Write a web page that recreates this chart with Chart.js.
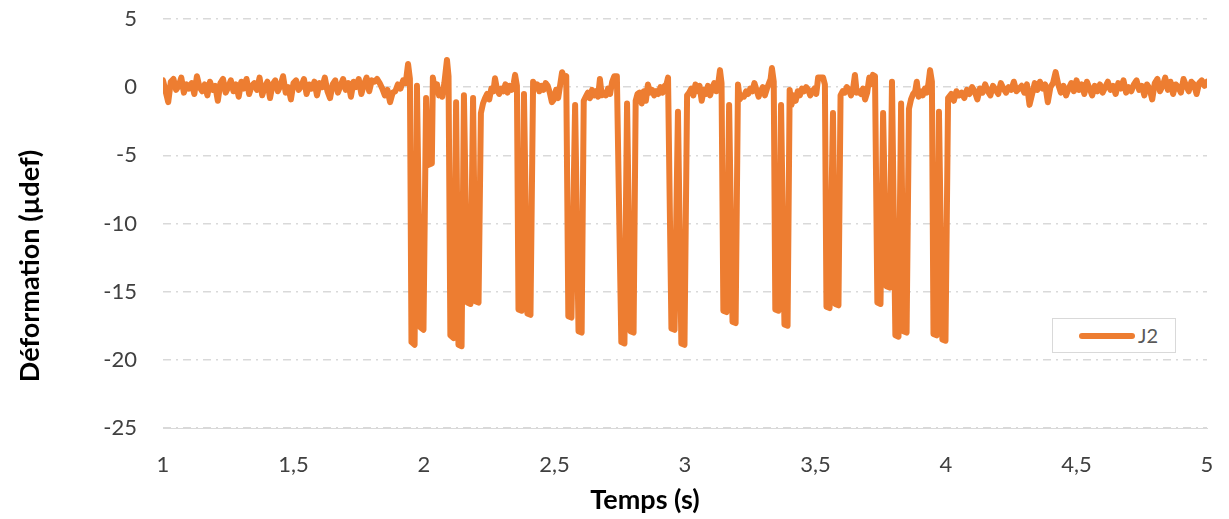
<!DOCTYPE html>
<html>
<head>
<meta charset="utf-8">
<script src="https://cdn.jsdelivr.net/npm/chart.js@4"></script>
<style>
    html, body { margin: 0; padding: 0; background: #fff; }
    #wrap { position: relative; width: 1229px; height: 519px; }
    #legend {
        position: absolute; left: 1052px; top: 318px; width: 122px; height: 33px;
        border: 1px solid #d9d9d9; background: #fff;
        font-family: Lato, sans-serif; font-size: 20px; color: #595959;
    }
    #legend .swatch {
        position: absolute; left: 26px; top: 14px; width: 56px; height: 6px;
        background: #ED7D31; border-radius: 3px;
    }
    #legend .label { position: absolute; left: 85px; top: 4px; }
</style>
</head>
<body>
<div id="wrap">
    <canvas id="chart" width="1229" height="519"></canvas>
    <div id="legend"><span class="swatch"></span><span class="label">J2</span></div>
</div>
<script>
// Signal J2

// quiet part before the passage, one sample every 0.01 s from 1.00 s
const beforeStart = 1.00;
const sampleStep = 0.01;
const strainBefore = [
    0.5, -0.3, -1.1, 0.4, 0.6, -0.2, 0.1, 0.7, -0.4, 0.2,
    -0.1, 0.3, -0.5, 0.8, 0.0, -0.3, 0.2, -0.6, 0.4, -0.2,
    0.1, -1.0, 0.3, 0.6, -0.4, 0.0, 0.5, -0.3, 0.2, -0.7,
    0.4, -0.1, 0.6, -0.5, 0.1, 0.3, -0.2, 0.7, -0.6, 0.0,
    0.4, -0.8, 0.2, 0.5, -0.3, 0.1, 0.8, -0.4, 0.0, -0.9,
    0.3, 0.5, -0.2, 0.1, 0.6, -0.5, 0.2, -0.1, 0.4, -0.6,
    0.3, 0.0, 0.7, -0.3, -0.8, 0.2, 0.5, -0.4, 0.1, 0.6,
    -0.2, 0.3, -0.7, 0.4, 0.0, 0.6, -0.5, 0.2, 0.7, -0.3,
    0.5, 0.4, 0.6, 0.3, -0.1, -0.6, -0.2, -1.1, -0.4, -0.3,
    0.2, -0.1, 0.5
];

// passage of the axles (1.93 s - 4.01 s)
const passTimes = [
    1.930, 1.939, 1.946, 1.952, 1.964, 1.973, 1.986, 1.998, 2.008, 2.016,
    2.030, 2.034, 2.042, 2.050, 2.057, 2.064, 2.070, 2.078, 2.088, 2.094,
    2.101, 2.113, 2.123, 2.132, 2.144, 2.153, 2.166, 2.178, 2.188, 2.197,
    2.209, 2.218, 2.226, 2.234, 2.242, 2.250, 2.258, 2.266, 2.272, 2.280,
    2.288, 2.296, 2.304, 2.312, 2.320, 2.328, 2.336, 2.344, 2.349, 2.356,
    2.362, 2.374, 2.383, 2.396, 2.408, 2.418, 2.426, 2.434, 2.442, 2.450,
    2.458, 2.466, 2.474, 2.482, 2.490, 2.498, 2.506, 2.514, 2.522, 2.529,
    2.537, 2.545, 2.553, 2.565, 2.579, 2.592, 2.604, 2.612, 2.620, 2.628,
    2.636, 2.644, 2.652, 2.660, 2.667, 2.674, 2.681, 2.689, 2.697, 2.705,
    2.713, 2.721, 2.729, 2.739, 2.756, 2.768, 2.778, 2.791, 2.803, 2.811,
    2.818, 2.826, 2.834, 2.842, 2.850, 2.858, 2.866, 2.874, 2.882, 2.890,
    2.898, 2.906, 2.914, 2.922, 2.929, 2.935, 2.948, 2.960, 2.973, 2.986,
    2.998, 3.008, 3.016, 3.024, 3.032, 3.040, 3.048, 3.056, 3.064, 3.072,
    3.080, 3.088, 3.096, 3.104, 3.112, 3.120, 3.127, 3.134, 3.140, 3.147,
    3.159, 3.169, 3.182, 3.194, 3.203, 3.210, 3.218, 3.226, 3.234, 3.242,
    3.250, 3.258, 3.266, 3.274, 3.282, 3.290, 3.298, 3.306, 3.314, 3.322,
    3.328, 3.333, 3.340, 3.346, 3.358, 3.368, 3.381, 3.393, 3.401, 3.408,
    3.416, 3.424, 3.432, 3.440, 3.448, 3.456, 3.464, 3.472, 3.480, 3.488,
    3.496, 3.503, 3.510, 3.520, 3.529, 3.536, 3.542, 3.554, 3.567, 3.576,
    3.588, 3.596, 3.604, 3.612, 3.620, 3.628, 3.636, 3.644, 3.651, 3.658,
    3.666, 3.674, 3.682, 3.690, 3.698, 3.706, 3.712, 3.720, 3.728, 3.737,
    3.749, 3.759, 3.772, 3.784, 3.793, 3.806, 3.818, 3.828, 3.837, 3.849,
    3.858, 3.866, 3.874, 3.882, 3.888, 3.895, 3.903, 3.911, 3.919, 3.927,
    3.933, 3.939, 3.946, 3.952, 3.964, 3.973, 3.986, 3.998, 4.008
];
const passStrain = [
    0.3, 1.7, 0.6, -18.7, -18.9, 0.1, -17.6, -17.8, -0.8, -5.7,
    -5.6, 0.7, -0.3, 0.2, -0.6, -0.2, -0.7, 0.3, 2.0, 0.8,
    -18.2, -18.4, -1.1, -18.9, -19.0, -0.6, -15.8, -15.9, -0.8, -15.7,
    -15.8, -1.9, -1.2, -0.8, -0.5, -0.9, -0.1, -0.3, 0.65, -0.2,
    -0.5, -0.1, -0.3, 0.2, -0.4, 0.1, -0.2, 0.3, 0.9, 0.1,
    -16.3, -16.4, -0.5, -16.6, -16.7, 0.4, -0.1, 0.2, -0.3, 0.1,
    -0.2, 0.3, 0.1, -0.4, -1.1, -0.9, -0.2, -0.8, 0.2, 1.1,
    0.7, 0.8, -16.8, -16.9, -1.3, -17.9, -18.0, -1.0, -0.7, -0.4,
    -0.8, -0.2, -0.6, -0.3, -0.7, 0.6, -0.6, -0.4, -0.6, -0.1,
    -0.5, 0.4, 0.8, 0.8, -18.7, -18.8, -1.2, -17.9, -18.0, -1.0,
    -0.5, -0.4, -1.2, -0.3, -1.0, 0.2, -0.4, -0.2, -0.6, -0.3,
    -0.5, 0.0, -0.4, 0.1, 0.2, 0.7, -17.7, -17.8, -1.8, -18.8,
    -18.9, -0.6, -0.4, -0.1, -0.6, 0.2, -0.3, 0.1, -1.0, -0.2,
    -0.5, 0.1, -0.6, -0.1, 0.3, -0.3, 0.2, 1.25, 0.3, -16.4,
    -16.5, -1.3, -17.2, -17.3, 0.2, -0.9, -0.6, -0.7, -0.3, -0.5,
    -0.1, -0.3, 0.3, -0.2, -0.7, -0.3, 0.0, -0.6, -0.1, 0.3,
    0.6, 1.4, 0.4, -16.3, -16.4, -1.3, -17.4, -17.5, -0.2, -1.3,
    -0.6, -1.0, -0.3, -0.6, -0.1, -0.3, 0.0, -0.2, -0.6, -0.3,
    -0.1, -0.5, 0.7, 0.7, 0.7, 0.2, -16.1, -16.2, -1.9, -15.9,
    -16.0, -0.6, -0.3, -0.4, 0.0, -0.2, -0.6, -0.1, 0.9, -0.4,
    -0.3, -0.5, -0.1, -0.9, -0.4, 0.7, 0.2, 0.9, 0.8, -15.8,
    -15.9, -1.9, -14.6, -14.7, 0.4, -18.2, -18.3, -1.2, -17.9, -18.0,
    -1.6, -0.9, -0.5, -0.3, 0.4, -0.7, -0.3, -0.6, -0.1, -0.4,
    0.3, 1.25, 0.4, -18.1, -18.2, -1.8, -18.5, -18.6, -0.8
];

// quiet part after the passage, one sample every 0.01 s from 4.02 s
const afterStart = 4.02;
const strainAfter = [
    -0.5, -1.0, -0.3, -0.6, -0.4, -0.8, -0.2, -0.5, 0.0,
    -0.3, -0.9, -0.1, -0.4, 0.2, -0.3, -0.6, 0.1, -0.2, -0.5,
    0.3, -0.1, -0.4, 0.0, -0.2, 0.4, -0.3, -0.1, 0.1, -0.4,
    0.2, -1.3, -0.5, 0.3, -0.2, 0.4, -0.1, 0.2, -1.1, 0.0,
    0.3, 1.1, 0.2, -0.4, 0.1, -0.6, -0.1, 0.3, -0.3, 0.5,
    -0.2, 0.2, -0.5, 0.4, -0.1, -0.6, 0.1, -0.3, 0.2, -0.4,
    0.0, 0.4, -0.2, 0.1, -0.5, 0.3, -0.1, 0.5, -0.4, 0.0,
    -0.3, 0.2, 0.5, -0.2, 0.1, -0.6, 0.2, -0.1, -0.9, 0.3,
    0.6, -0.3, 0.1, 0.7, -0.2, 0.4, -0.5, 0.2, 0.0, -0.4,
    0.6, 0.1, -0.3, 0.4, 0.2, -0.5, 0.3, 0.5, 0.1, 0.4
];

const xTicks = [1, 1.5, 2, 2.5, 3, 3.5, 4, 4.5, 5];
const yTicks = [5, 0, -5, -10, -15, -20, -25];
const xTitle = 'Temps (s)';
const yTitle = 'Déformation (µdef)';

// assemble points
const points = [];
strainBefore.forEach((v, i) => points.push({ x: beforeStart + i * sampleStep, y: v }));
passTimes.forEach((t, i) => points.push({ x: t, y: passStrain[i] }));
strainAfter.forEach((v, i) => points.push({ x: afterStart + i * sampleStep, y: v }));

const frNum = v => String(v).replace('.', ',');

// axis titles sit a bit off-centre in the original, draw them by hand
const axisTitles = {
    id: 'axisTitles',
    afterDraw(chart) {
        const c = chart.ctx;
        c.save();
        c.fillStyle = '#000';
        c.font = 'bold 27px Lato';
        c.textAlign = 'center';
        c.textBaseline = 'middle';
        c.fillText(xTitle, 645, 500);
        c.translate(30, 266);
        c.rotate(-Math.PI / 2);
        c.fillText(yTitle, 0, 0);
        c.restore();
    }
};

const ctx = document.getElementById('chart').getContext('2d');
new Chart(ctx, {
    type: 'line',
    data: {
        datasets: [{
            label: 'J2',
            data: points,
            borderColor: '#ED7D31',
            borderWidth: 6,
            pointRadius: 0,
            tension: 0,
            borderJoinStyle: 'round',
            borderCapStyle: 'round'
        }]
    },
    options: {
        responsive: false,
        animation: false,
        layout: {
            padding: { top: 19, right: 22, left: 0, bottom: 0 }
        },
        plugins: {
            legend: { display: false },
            tooltip: { enabled: false }
        },
        scales: {
            x: {
                type: 'linear',
                min: 1,
                max: 5,
                afterBuildTicks: s => { s.ticks = xTicks.map(v => ({ value: v })); },
                afterFit: s => {
                    s.height = 91;
                    s.paddingLeft = 0;
                    s.paddingRight = 0;
                },
                grid: { display: false, drawTicks: false },
                border: { display: true, color: '#d9d9d9', width: 1 },
                ticks: {
                    padding: 24,
                    color: '#404040',
                    font: { family: 'Lato', size: 22 },
                    maxRotation: 0,
                    callback: v => frNum(v)
                }
            },
            y: {
                min: -25,
                max: 5,
                afterBuildTicks: s => { s.ticks = yTicks.map(v => ({ value: v })); },
                afterFit: s => {
                    s.width = 163;
                    s.paddingTop = 0;
                    s.paddingBottom = 0;
                },
                grid: {
                    color: '#d9d9d9',
                    lineWidth: 1.5,
                    drawTicks: false
                },
                border: { display: false, dash: [8, 5, 2, 5] },
                ticks: {
                    padding: 26,
                    color: '#404040',
                    font: { family: 'Lato', size: 22 }
                }
            }
        }
    },
    plugins: [axisTitles]
});
</script>
</body>
</html>
